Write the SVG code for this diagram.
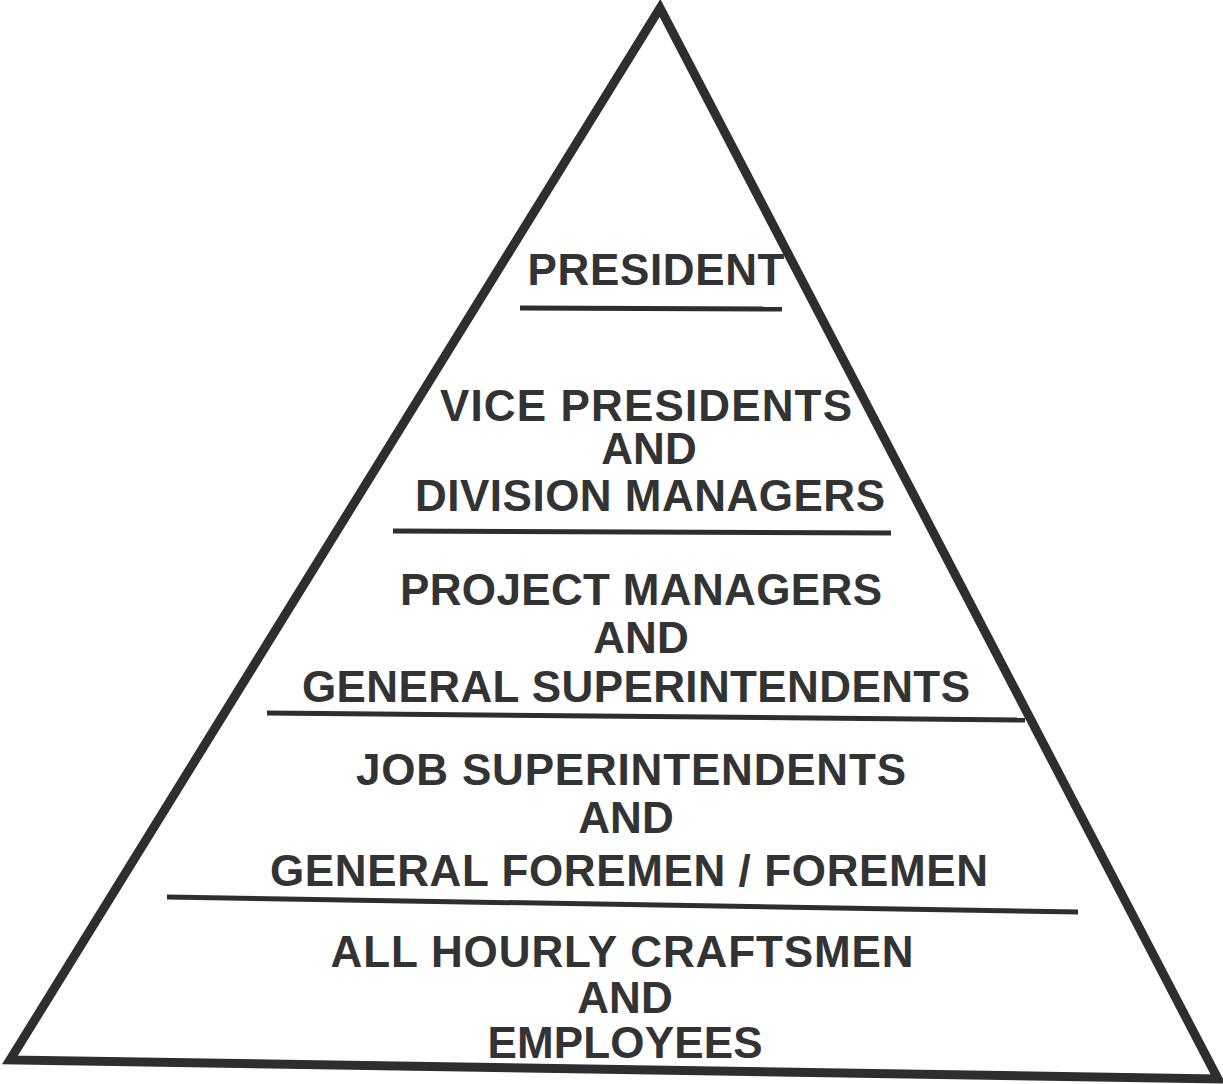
<svg xmlns="http://www.w3.org/2000/svg" width="1223" height="1084" viewBox="0 0 1223 1084">
<style>
.edge{fill:none;stroke:#2e2e2e;stroke-width:9;stroke-linejoin:miter;stroke-linecap:round}
.div{stroke:#2e2e2e;stroke-width:5;stroke-linecap:butt}
.t{font-family:"Liberation Sans",Arial,sans-serif;font-weight:bold;font-size:44px;fill:#333;text-anchor:middle}
</style>
<rect width="1223" height="1084" fill="#fff"/>
<g id="pyramid">
<path class="edge" d="M660,8 L10,1060 L1218,1079 Z"/>
</g>
<g id="connectors">
<line class="div" x1="520" y1="308" x2="782" y2="309"/>
<line class="div" x1="393" y1="531" x2="891" y2="533"/>
<line class="div" x1="267" y1="713" x2="1025" y2="720"/>
<line class="div" x1="167" y1="897" x2="1078" y2="912"/>
</g>
<g id="president">
<text class="t" x="656" y="285" textLength="257">PRESIDENT</text>
</g>
<g id="vice-presidents">
<text class="t" x="646" y="421" textLength="412">VICE PRESIDENTS</text>
<text class="t" x="649" y="464">AND</text>
<text class="t" x="650" y="511" textLength="470">DIVISION MANAGERS</text>
</g>
<g id="project-managers">
<text class="t" x="641" y="605" textLength="482">PROJECT MANAGERS</text>
<text class="t" x="641" y="653">AND</text>
<text class="t" x="636" y="702" textLength="668">GENERAL SUPERINTENDENTS</text>
</g>
<g id="job-superintendents">
<text class="t" x="631" y="785" textLength="550">JOB SUPERINTENDENTS</text>
<text class="t" x="626" y="833">AND</text>
<text class="t" x="629" y="886" textLength="718">GENERAL FOREMEN / FOREMEN</text>
</g>
<g id="craftsmen">
<text class="t" x="622" y="967" textLength="583">ALL HOURLY CRAFTSMEN</text>
<text class="t" x="625" y="1013">AND</text>
<text class="t" x="625" y="1058" textLength="275">EMPLOYEES</text>
</g>
</svg>
